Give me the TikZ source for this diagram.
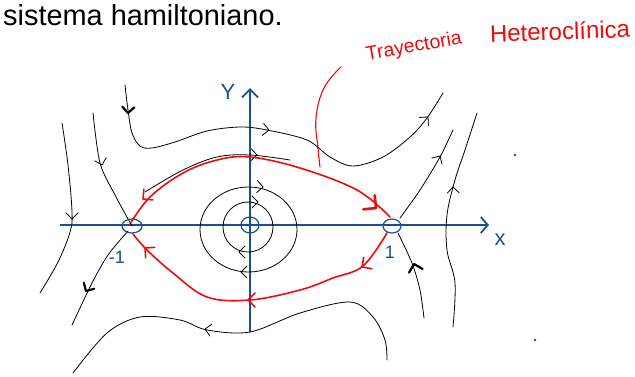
\documentclass[tikz,border=0pt]{standalone}
\usepackage{fontspec}
\setmainfont{Liberation Sans}
\usetikzlibrary{arrows.meta}
\definecolor{axblue}{HTML}{1C4F8E}
\definecolor{hred}{HTML}{F00A0A}
\tikzset{
  axisline/.style={draw=axblue, line width=2.6pt},
  traj/.style={draw=black, line width=0.8pt, line cap=round, line join=round},
  thicktip/.style={draw=black, line width=2.2pt, line cap=round, line join=round},
  het/.style={draw=hred, line width=1.6pt, line cap=round, line join=round},
  bighet/.style={draw=hred, line width=2.6pt, line cap=round, line join=round},
  eqpt/.style={draw=axblue, line width=1.2pt},
  lab/.style={text=axblue, font=\fontsize{18}{20}\selectfont, inner sep=0pt},
}
% #1 style, #2 tip position, #3 direction (pixel angle, clockwise from right), #4 size
\newcommand{\myarrtip}[4]{\draw[#1, shift={(#2)}, rotate=-#3] (-#4,-#4) -- (0,0) -- (-#4,#4);}
\begin{document}
\begin{tikzpicture}[x=1pt,y=-1pt]
\useasboundingbox (0,0) rectangle (635,376);

% title
\node[anchor=base west, inner sep=0pt, font=\fontsize{28.9}{30}\selectfont] (title) at (3,25) {sistema hamiltoniano.};

% red handwritten label
\node[text=hred, inner sep=0pt, rotate=10, font=\fontsize{19.5}{20}\selectfont] (tra) at (414,47) {Trayectoria};
\node[text=hred, inner sep=0pt, rotate=2, font=\fontsize{24}{26}\selectfont] (het) at (560,31) {Heteroclínica};
\coordinate (ptr0) at (341,67);
\coordinate (ptr1) at (320,167);
\draw[het, line width=1.1pt] plot[smooth, tension=0.7] coordinates {(ptr0) (324,88) (316,118) (318,148) (ptr1)};

% axes
\coordinate (xs) at (60,225);
\coordinate (xe) at (489,225);
\coordinate (ys) at (250,332);
\coordinate (ye) at (250,88);
\draw[axisline, -{Straight Barb[length=7pt,width=16pt,line width=1.8pt]}] (xs) -- (xe);
\draw[axisline, -{Straight Barb[length=8pt,width=16pt,line width=1.8pt]}] (ys) -- (ye);
\node[lab, font=\fontsize{22}{24}\selectfont] (ylab) at (228,92) {Y};
\node[lab, font=\fontsize{22}{24}\selectfont] (xlab) at (500,240) {x};
\node[lab] (m1) at (117,257) {-1};
\node[lab] (p1) at (390,252) {1};
\fill[axblue] (515,155) circle (1.3);
\fill[axblue] (535,340) circle (1.3);

% equilibria
\coordinate (sL) at (132,226);
\coordinate (sR) at (392,226);
\coordinate (O) at (250,225);

% periodic orbits around the centre
\draw[traj] (248,227) ellipse [x radius=25, y radius=25];
\draw[traj] (248.5,229.5) ellipse [x radius=48.5, y radius=42.5];
\myarrtip{traj}{258,202}{0}{6}
\myarrtip{traj}{239,252}{180}{6}
\myarrtip{traj}{263,187}{4}{6}
\myarrtip{traj}{241,272}{180}{6}

% heteroclinic orbits (red) with black twin
\draw[traj] plot[smooth, tension=0.6] coordinates {(145,192) (183,170) (217,157) (250,155) (290,160)};
\myarrtip{traj}{257,155}{2}{6}
\draw[het] plot[smooth, tension=0.6] coordinates {(130,224) (150,197) (183,173) (217,160) (250,157) (300,168) (357,190) (390,217)};
\myarrtip{het}{143,199}{140}{7}
\myarrtip{bighet}{376,208}{39}{9}
\draw[het] plot[smooth, tension=0.6] coordinates {(387,233) (363,266) (333,278) (300,290) (250,300) (207,297) (173,273) (147,250) (133,234)};
\myarrtip{het}{362,267}{145}{7}
\myarrtip{het}{248,300}{180}{7}
\myarrtip{het}{145,248}{221}{7}

% upper open trajectory
\draw[traj] plot[smooth, tension=0.55] coordinates {(125,85) (128,110) (132,133) (140,146) (152,148) (175,142) (207,131) (240,127) (267,130) (307,140) (330,157) (353,166) (383,157) (410,137) (427,118) (443,93)};
\myarrtip{thicktip}{128,113}{93}{6}
\myarrtip{traj}{269,130}{6}{6}
\myarrtip{traj}{428,117}{-48}{6}

% lower open trajectory
\draw[traj] plot[smooth, tension=0.55] coordinates {(387,360) (385,340) (373,317) (350,302) (300,313) (250,332) (207,330) (180,320) (140,317) (107,333) (73,373)};
\myarrtip{traj}{205,329}{190}{6}

% separatrices at left saddle
\draw[traj] plot[smooth, tension=0.5] coordinates {(93,113) (100,163) (115,195) (sL)};
\myarrtip{traj}{102,165}{75}{6}
\draw[traj] plot[smooth, tension=0.5] coordinates {(128,231) (108,255) (92,283) (72,325)};
\myarrtip{thicktip}{86,291}{120}{6}
\draw[traj] plot[smooth, tension=0.6] coordinates {(62,123) (68,165) (72,212) (70,232) (58,262) (40,293)};
\myarrtip{traj}{72,219}{90}{6}

% separatrices at right saddle
\draw[traj] plot[smooth, tension=0.5] coordinates {(400,218) (420,190) (440,157) (453,130)};
\myarrtip{traj}{440,156}{-59}{6}
\draw[traj] plot[smooth, tension=0.5] coordinates {(424,318) (420,290) (412,263) (398,233)};
\myarrtip{thicktip}{414,264}{-105}{7}
\draw[traj] plot[smooth, tension=0.6] coordinates {(453,327) (455,283) (447,250) (447,215) (455,180) (465,150) (477,113)};
\myarrtip{traj}{453,187}{-92}{6}

% equilibrium markers
\draw[eqpt] (sL) ellipse [x radius=10, y radius=7];
\draw[eqpt] (sR) ellipse [x radius=9, y radius=7];
\draw[eqpt] (O) ellipse [x radius=9, y radius=8];
\end{tikzpicture}
\end{document}
